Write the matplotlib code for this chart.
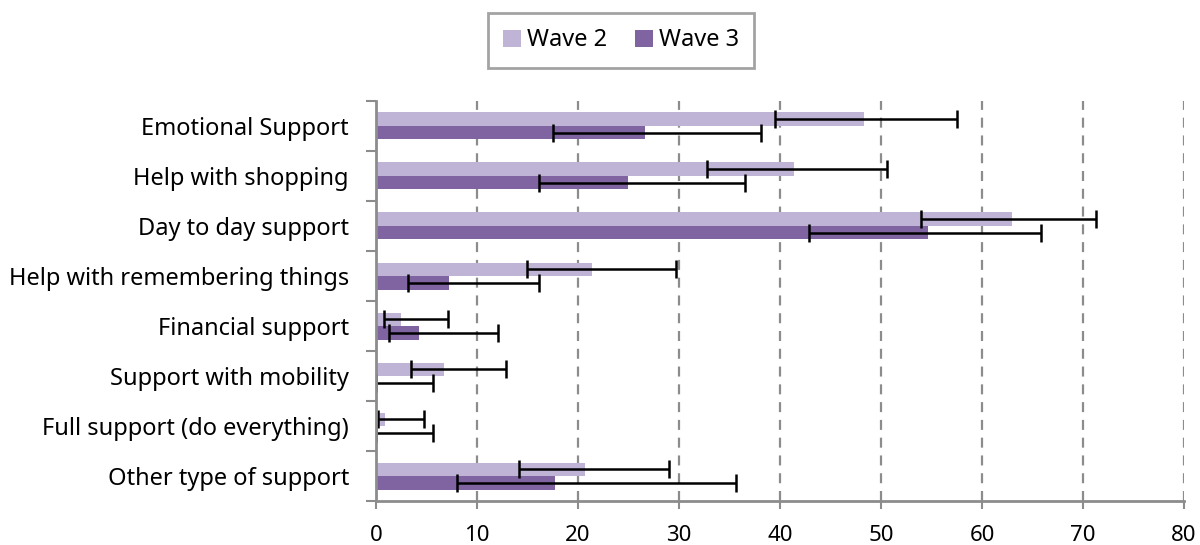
import matplotlib
matplotlib.use("Agg")
import matplotlib.pyplot as plt
import numpy as np
from matplotlib.ticker import FixedLocator
from matplotlib.patches import Patch

categories = ["Emotional Support", "Help with shopping", "Day to day support",
              "Help with remembering things", "Financial support",
              "Support with mobility", "Full support (do everything)",
              "Other type of support"]
wave2 = [48.3, 41.4, 63.0, 21.4, 2.5, 6.7, 0.9, 20.7]
wave2_low = [39.5, 32.8, 54.0, 15.0, 0.8, 3.5, 0.2, 14.2]
wave2_high = [57.5, 50.6, 71.3, 29.7, 7.1, 12.9, 4.8, 29.0]
wave3 = [26.6, 25.0, 54.7, 7.2, 4.3, 0.0, 0.0, 17.7]
wave3_low = [17.5, 16.1, 42.9, 3.2, 1.3, 0.0, 0.0, 8.0]
wave3_high = [38.1, 36.5, 65.8, 16.1, 12.1, 5.6, 5.6, 35.6]
x_ticks = [0, 10, 20, 30, 40, 50, 60, 70, 80]

FONT = "Noto Sans"
c2 = "#C0B4D6"
c3 = "#8064A2"
grey = "#8C8C8C"

fig = plt.figure(figsize=(12, 5.45), dpi=100)
ax = fig.add_axes([0.3133, 0.0807, 0.6734, 0.734])

y = np.arange(len(categories))
h = 0.27
w2 = np.array(wave2); w3 = np.array(wave3)
err2 = [w2 - np.array(wave2_low), np.array(wave2_high) - w2]
err3 = [w3 - np.array(wave3_low), np.array(wave3_high) - w3]

ax.barh(y - h / 2, w2, height=h, color=c2, zorder=2)
ax.barh(y + h / 2, w3, height=h, color=c3, zorder=2)
ax.errorbar(w2, y - h / 2, xerr=err2, fmt="none", ecolor="black",
            elinewidth=1.8, capsize=6.2, capthick=1.8, zorder=4)
ax.errorbar(w3, y + h / 2, xerr=err3, fmt="none", ecolor="black",
            elinewidth=1.8, capsize=6.2, capthick=1.8, zorder=4)

ax.set_xlim(0, 80)
ax.set_ylim(len(categories) - 0.5, -0.5)
ax.set_xticks(x_ticks)
ax.set_xticklabels([str(t) for t in x_ticks], fontfamily=FONT, fontsize=16)
ax.set_yticks(y)
ax.set_yticklabels(categories, fontfamily=FONT, fontsize=17)
ax.yaxis.set_minor_locator(FixedLocator(np.arange(-0.5, len(categories), 1.0)))
ax.tick_params(axis="y", which="major", length=0, pad=19.5)
ax.tick_params(axis="y", which="minor", length=7, width=1.5, color=grey)
ax.tick_params(axis="x", which="major", length=6, width=1.5, color=grey, pad=11)

for t in x_ticks[1:]:
    ax.axvline(t, color=grey, linestyle=(0, (4.5, 3.5)), linewidth=1.6, zorder=1)

for s in ["top", "right"]:
    ax.spines[s].set_visible(False)
for s in ["left", "bottom"]:
    ax.spines[s].set_color(grey)
    ax.spines[s].set_linewidth(2)
    ax.spines[s].set_zorder(5)

handles = [Patch(facecolor=c2, label="Wave 2"), Patch(facecolor=c3, label="Wave 3")]
leg = fig.legend(handles=handles, loc="center", bbox_to_anchor=(0.5175, 0.9257),
                 ncol=2, frameon=True, fancybox=False, prop={"family": FONT, "size": 17},
                 handlelength=0.75, handleheight=0.75, handletextpad=0.25,
                 columnspacing=1.2, borderpad=0.65)
leg.get_frame().set_edgecolor(grey)
leg.get_frame().set_linewidth(2)

fig.savefig("out.png", dpi=100)
